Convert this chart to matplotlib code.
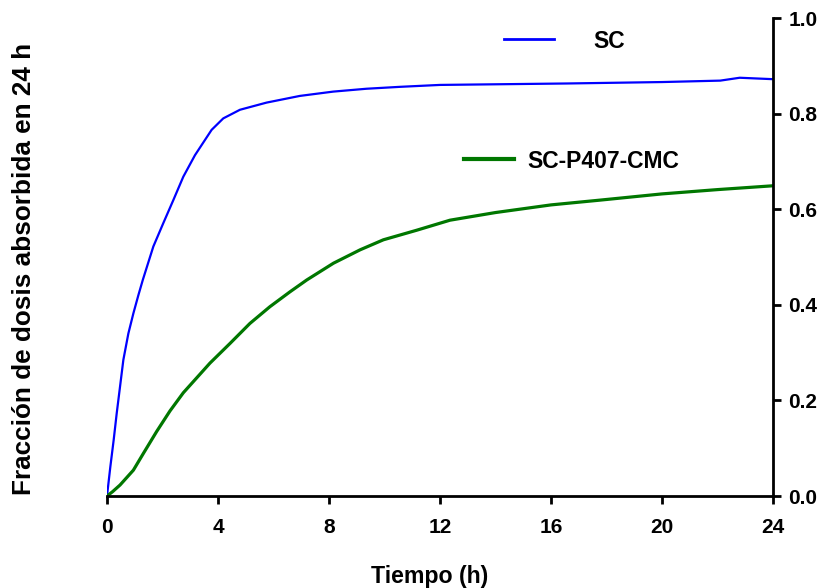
import matplotlib
matplotlib.use('Agg')
import matplotlib.pyplot as plt
from matplotlib.lines import Line2D

plt.rcParams['font.family'] = ['Liberation Sans', 'DejaVu Sans']
plt.rcParams['font.weight'] = 'bold'

# tiempo (h) y fraccion absorbida
t_sc = [0, 0.12, 0.24, 0.35, 0.47, 0.59, 0.77, 0.95, 1.13, 1.29, 1.67, 2.03, 2.39,
        2.75, 3.17, 3.77, 4.19, 4.79, 5.75, 6.95, 8.15, 9.35, 10.56, 12.0,
        16.56, 20.0, 22.1, 22.8, 24.0]
y_sc = [0, 0.061, 0.117, 0.173, 0.229, 0.285, 0.340, 0.382, 0.420, 0.452, 0.522, 0.571, 0.619,
        0.668, 0.713, 0.766, 0.790, 0.808, 0.823, 0.837, 0.846, 0.852, 0.856, 0.860,
        0.863, 0.866, 0.869, 0.875, 0.872]

t_cmc = [0, 0.2, 0.47, 0.95, 1.31, 1.79, 2.27, 2.75, 3.71, 4.43, 5.15, 5.87, 6.59,
         7.2, 8.16, 9.12, 9.96, 11.16, 12.36, 14.0, 16.0, 17.77, 20.0, 22.0, 24.0]
y_cmc = [0, 0.009, 0.023, 0.054, 0.089, 0.135, 0.178, 0.216, 0.278, 0.319, 0.361, 0.396, 0.427,
         0.452, 0.487, 0.515, 0.536, 0.556, 0.577, 0.593, 0.609, 0.619, 0.632, 0.641, 0.649]

fig = plt.figure(figsize=(8.21, 5.88), dpi=100)
ax = fig.add_axes([107/821, 1 - 496/588, 666/821, 478/588])

ax.plot(t_sc, y_sc, color='#0000ff', lw=1.6, solid_joinstyle='round')
ax.plot(t_cmc, y_cmc, color='#007700', lw=2.3, solid_joinstyle='round')

ax.set_xlim(0, 24)
ax.set_ylim(0, 1.0)
ax.set_xticks([0, 4, 8, 12, 16, 20, 24])
ax.set_yticks([0.0, 0.2, 0.4, 0.6, 0.8, 1.0])
ax.set_yticklabels(['0.0', '0.2', '0.4', '0.6', '0.8', '1.0'])

ax.spines['left'].set_visible(False)
ax.spines['top'].set_visible(False)
ax.spines['right'].set_linewidth(2)
ax.spines['bottom'].set_linewidth(2)
ax.yaxis.tick_right()
ax.tick_params(axis='both', direction='out', length=6, width=2, labelsize=15)
ax.tick_params(axis='x', pad=10)
ax.tick_params(axis='y', pad=5)
for lab in ax.get_xticklabels() + ax.get_yticklabels():
    lab.set_fontweight('bold')

fig.text(430/821, 1 - 576/588, 'Tiempo (h)', ha='center', va='center', fontsize=16.7, fontweight='bold')
fig.text(24/821, 1 - 269/588, 'Fracción de dosis absorbida en 24 h', rotation=90,
         ha='center', va='center', fontsize=18.8, fontweight='bold')

h1 = Line2D([], [], color='#0000ff', lw=2)
h2 = Line2D([], [], color='#007700', lw=3)
leg1 = ax.legend([h1], ['SC'], loc='center left', bbox_to_anchor=(504/821, 1 - 41/588),
                 bbox_transform=fig.transFigure, frameon=False, fontsize=16.5,
                 handlelength=2.18, handletextpad=1.7, borderpad=0, borderaxespad=0)
for tx in leg1.get_texts():
    tx.set_fontweight('bold')
ax.add_artist(leg1)
leg2 = ax.legend([h2], ['SC-P407-CMC'], loc='center left', bbox_to_anchor=(464/821, 1 - 161/588),
                 bbox_transform=fig.transFigure, frameon=False, fontsize=16.5,
                 handlelength=2.18, handletextpad=0.57, borderpad=0, borderaxespad=0)
for tx in leg2.get_texts():
    tx.set_fontweight('bold')

fig.savefig('out.png', dpi=100)
